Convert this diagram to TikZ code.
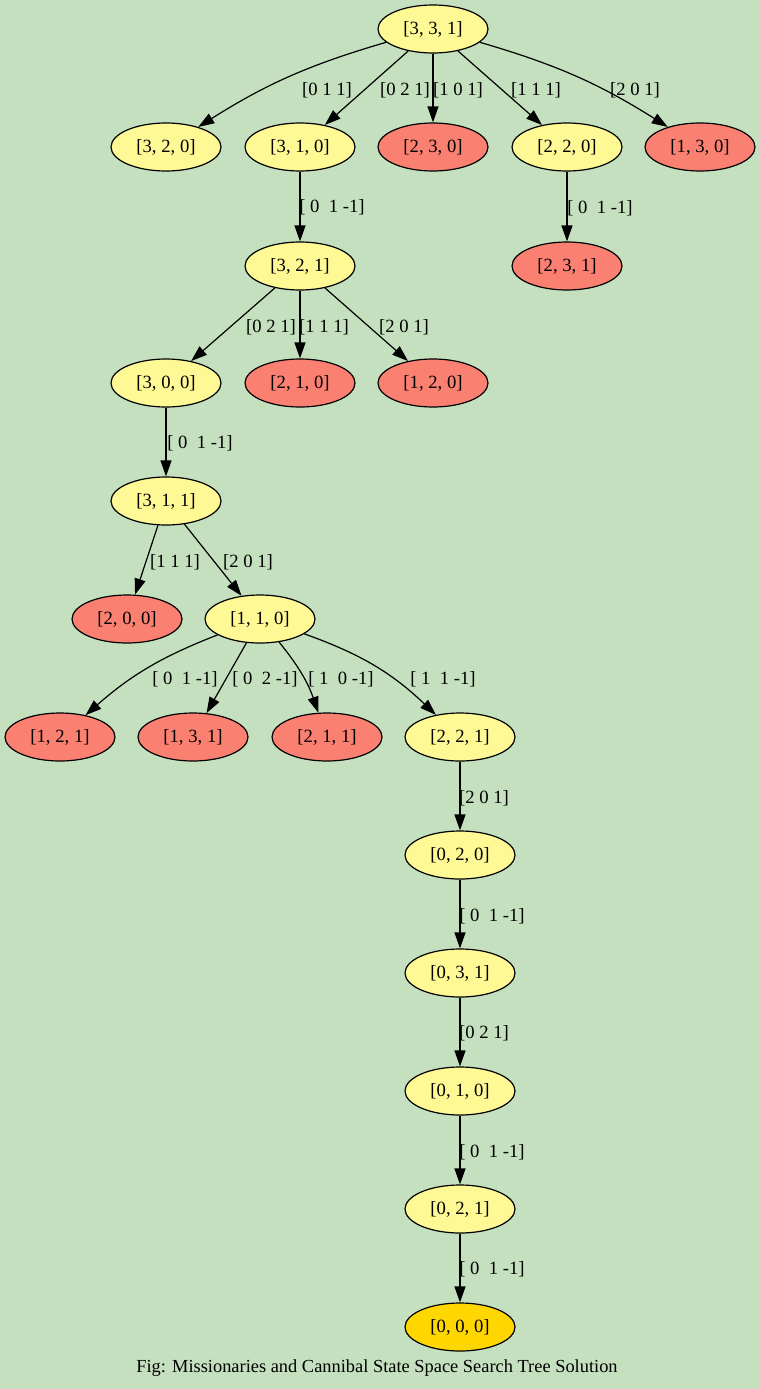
\documentclass[tikz,border=0pt]{standalone}
\usepackage{fontspec}
\setmainfont{Liberation Serif}
\usetikzlibrary{arrows.meta,shapes.geometric}
\definecolor{bgc}{HTML}{C5E0BE}
\definecolor{ylw}{HTML}{FFF995}
\definecolor{slm}{HTML}{FA8072}
\definecolor{gld}{HTML}{FFD700}
\tikzset{
  st/.style={ellipse, draw=black, line width=1.2pt, minimum width=110pt, minimum height=48pt, inner sep=0pt, fill=ylw, font=\fontsize{18.67}{22}\selectfont},
  bad/.style={st, fill=slm},
  goal/.style={st, fill=gld},
  lbl/.style={inner sep=0pt, font=\fontsize{18.67}{22}\selectfont},
  edge/.style={draw=black, line width=1.2pt, -{Triangle[length=16pt,width=11pt]}},
}
\begin{document}
\begin{tikzpicture}[x=1pt,y=1pt]
\fill[bgc] (0,0) rectangle (760,-1389);
\useasboundingbox (0,0) rectangle (760,-1389);
% nodes
\node[st]  (n331) at (433,-29)  {[3, 3, 1]};
\node[st]  (n320) at (166,-147) {[3, 2, 0]};
\node[st]  (n310) at (300,-147) {[3, 1, 0]};
\node[bad] (n230) at (433,-147) {[2, 3, 0]};
\node[st]  (n220) at (567,-147) {[2, 2, 0]};
\node[bad] (n130) at (700,-147) {[1, 3, 0]};
\node[st]  (n321) at (300,-266) {[3, 2, 1]};
\node[bad] (n231) at (567,-266) {[2, 3, 1]};
\node[st]  (n300) at (166,-383) {[3, 0, 0]};
\node[bad] (n210) at (300,-383) {[2, 1, 0]};
\node[bad] (n120) at (433,-383) {[1, 2, 0]};
\node[st]  (n311) at (166,-501) {[3, 1, 1]};
\node[bad] (n200) at (127,-619) {[2, 0, 0]};
\node[st]  (n110) at (260,-619) {[1, 1, 0]};
\node[bad] (n121) at (60,-737)  {[1, 2, 1]};
\node[bad] (n131) at (193,-737) {[1, 3, 1]};
\node[bad] (n211) at (327,-737) {[2, 1, 1]};
\node[st]  (n221) at (460,-737) {[2, 2, 1]};
\node[st]  (n020) at (460,-855) {[0, 2, 0]};
\node[st]  (n031) at (460,-973) {[0, 3, 1]};
\node[st]  (n010) at (460,-1091) {[0, 1, 0]};
\node[st]  (n021) at (460,-1209) {[0, 2, 1]};
\node[goal] (n000) at (460,-1327) {[0, 0, 0]};
% edges
\draw[edge] (n331) to[bend right=8] (n320);
\draw[edge] (n331) -- (n310);
\draw[edge] (n331) -- (n230);
\draw[edge] (n331) -- (n220);
\draw[edge] (n331) to[bend left=8] (n130);
\draw[edge] (n310) -- (n321);
\draw[edge] (n220) -- (n231);
\draw[edge] (n321) -- (n300);
\draw[edge] (n321) -- (n210);
\draw[edge] (n321) -- (n120);
\draw[edge] (n300) -- (n311);
\draw[edge] (n311) -- (n200);
\draw[edge] (n311) -- (n110);
\draw[edge] (n110) to[bend right=10] (n121);
\draw[edge] (n110) -- (n131);
\draw[edge] (n110) to[bend left=10] (n211);
\draw[edge] (n110) to[bend left=12] (n221);
\draw[edge] (n221) -- (n020);
\draw[edge] (n020) -- (n031);
\draw[edge] (n031) -- (n010);
\draw[edge] (n010) -- (n021);
\draw[edge] (n021) -- (n000);
% edge labels
\node[lbl] (l1) at (327,-90) {[0 1 1]};
\node[lbl] (l2) at (405,-90) {[0 2 1]};
\node[lbl] (l3) at (458,-90) {[1 0 1]};
\node[lbl] (l4) at (536,-90) {[1 1 1]};
\node[lbl] (l5) at (635,-90) {[2 0 1]};
\node[lbl] (l6) at (332,-207) {[~0~~1~-1]};
\node[lbl] (l7) at (600,-208) {[~0~~1~-1]};
\node[lbl] (l8) at (271,-327) {[0 2 1]};
\node[lbl] (l9) at (324,-327) {[1 1 1]};
\node[lbl] (l10) at (404,-327) {[2 0 1]};
\node[lbl] (l11) at (200,-443) {[~0~~1~-1]};
\node[lbl] (l12) at (175,-562) {[1 1 1]};
\node[lbl] (l13) at (248,-562) {[2 0 1]};
\node[lbl] (l14) at (185,-679) {[~0~~1~-1]};
\node[lbl] (l15) at (265,-679) {[~0~~2~-1]};
\node[lbl] (l16) at (341,-679) {[~1~~0~-1]};
\node[lbl] (l17) at (443,-679) {[~1~~1~-1]};
\node[lbl] (l18) at (484,-798) {[2 0 1]};
\node[lbl] (l19) at (492,-916) {[~0~~1~-1]};
\node[lbl] (l20) at (484,-1033) {[0 2 1]};
\node[lbl] (l21) at (492,-1152) {[~0~~1~-1]};
\node[lbl] (l22) at (492,-1269) {[~0~~1~-1]};
% caption
\node[lbl] (cap) at (377,-1368) {\fontsize{18.4}{22}\selectfont Fig: Missionaries and Cannibal State Space Search Tree Solution};
\end{tikzpicture}
\end{document}
